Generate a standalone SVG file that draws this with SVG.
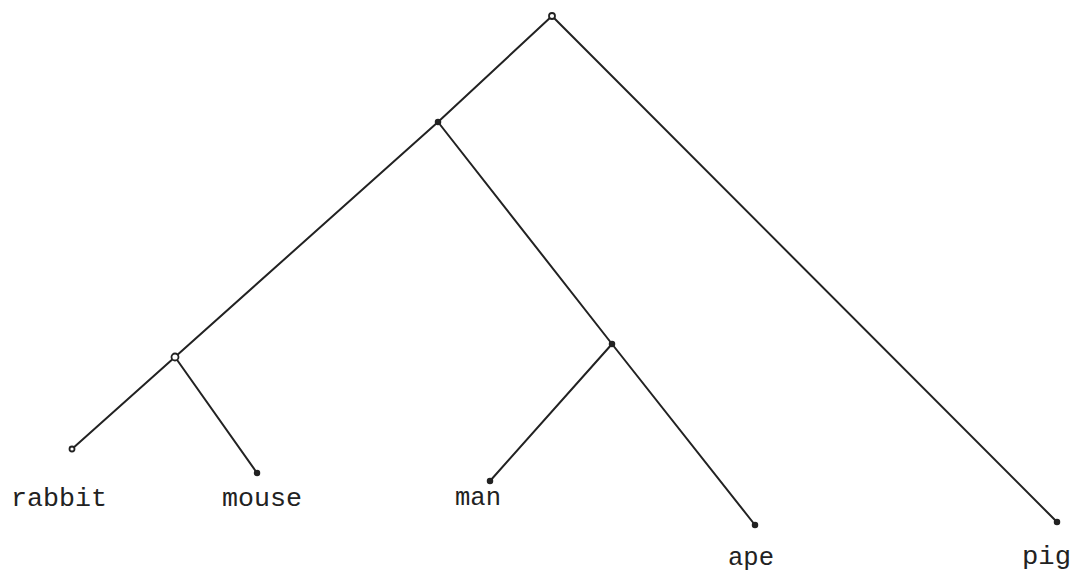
<svg xmlns="http://www.w3.org/2000/svg" width="1073" height="575" viewBox="0 0 1073 575">
<style>
.edge{stroke:#222;stroke-width:2;fill:none;stroke-linecap:round}
.dot{fill:#222;stroke:#222;stroke-width:1.5}
.hollow{fill:#fff;stroke:#222;stroke-width:1.8}
.lbl{font-family:"Liberation Mono","Courier New",monospace;font-size:26px;fill:#222}
</style>
<rect width="1073" height="575" fill="#fff"/>
<g id="connectors">
<line class="edge" x1="552" y1="16" x2="438" y2="122"/>
<line class="edge" x1="552" y1="16" x2="1057" y2="522"/>
<line class="edge" x1="438" y1="122" x2="175" y2="357"/>
<line class="edge" x1="438" y1="122" x2="612" y2="344"/>
<line class="edge" x1="175" y1="357" x2="72" y2="449"/>
<line class="edge" x1="175" y1="357" x2="257" y2="473"/>
<line class="edge" x1="612" y1="344" x2="490" y2="481"/>
<line class="edge" x1="612" y1="344" x2="755" y2="525"/>
</g>
<g id="root"><circle class="hollow" cx="552" cy="16" r="3"/></g>
<g id="n1"><circle class="dot" cx="438" cy="122" r="2.5"/></g>
<g id="n2"><circle class="hollow" cx="175" cy="357" r="3.5"/></g>
<g id="n3"><circle class="dot" cx="612" cy="344" r="2.5"/></g>
<g id="rabbit"><circle class="hollow" cx="72" cy="449" r="2.5"/><text class="lbl" x="11" y="506" textLength="96" lengthAdjust="spacingAndGlyphs">rabbit</text></g>
<g id="mouse"><circle class="dot" cx="257" cy="473" r="2.5"/><text class="lbl" x="222" y="506" textLength="80" lengthAdjust="spacingAndGlyphs">mouse</text></g>
<g id="man"><circle class="dot" cx="490" cy="481" r="2.5"/><text class="lbl" x="455" y="505" textLength="46" lengthAdjust="spacingAndGlyphs">man</text></g>
<g id="ape"><circle class="dot" cx="755" cy="525" r="2.5"/><text class="lbl" x="728" y="565" textLength="46" lengthAdjust="spacingAndGlyphs">ape</text></g>
<g id="pig"><circle class="dot" cx="1057" cy="522" r="2.5"/><text class="lbl" x="1022" y="564" textLength="49" lengthAdjust="spacingAndGlyphs">pig</text></g>
</svg>
